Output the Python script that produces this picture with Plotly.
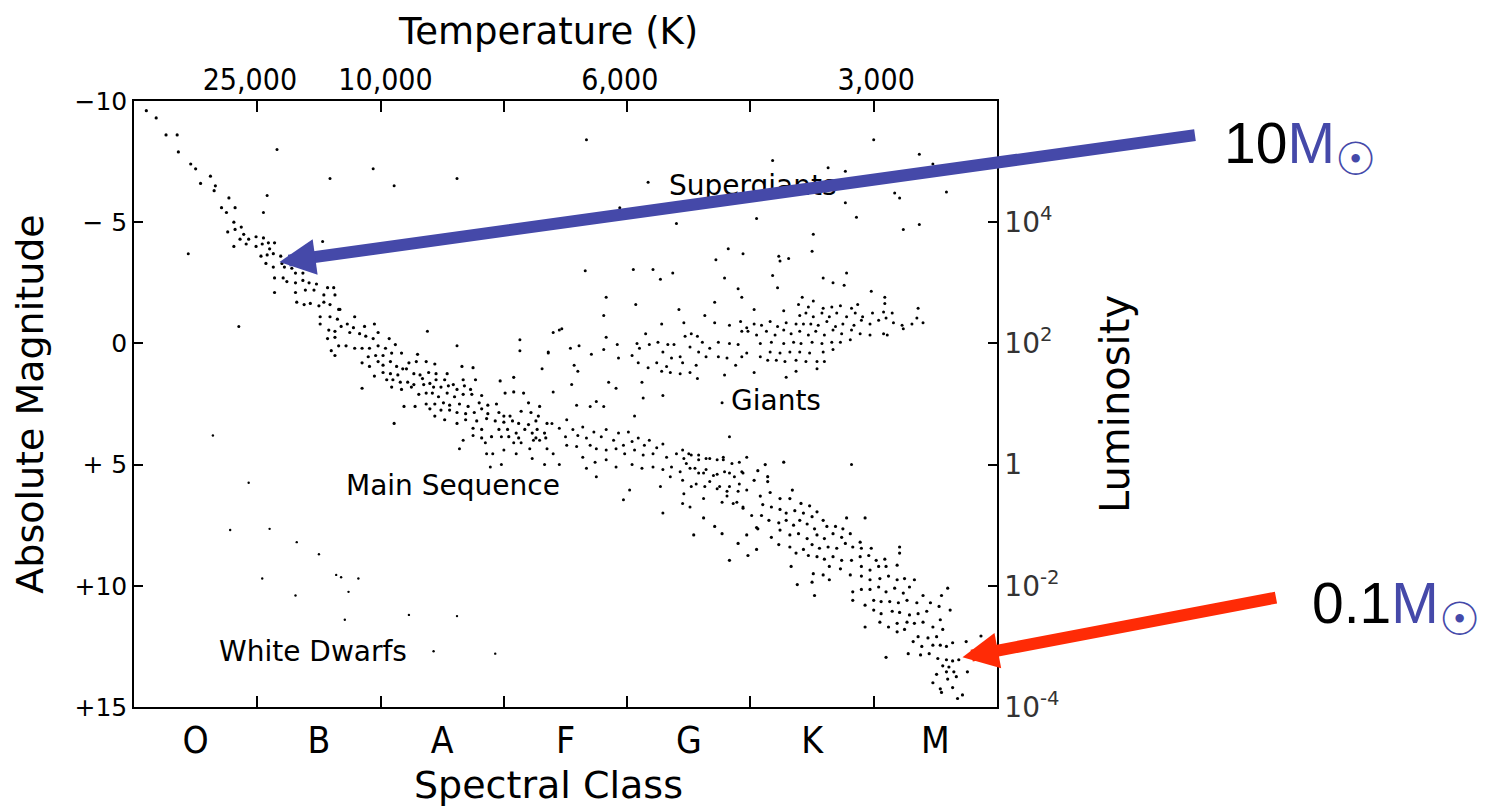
import plotly.graph_objects as go

# ---------------- data (spectral-class position, absolute magnitude) ----------------
# Main sequence: upper (O/B) branch
ms_upper_class = [0.10,0.18,0.26,0.35,0.36,0.46,0.50,0.62,0.54,0.66,0.65,0.77,0.71,0.82,0.75,
                  0.81,0.82,0.87,0.76,0.86,0.89,0.93,0.99,1.05,0.91,0.99,0.81,1.04,1.09,1.14,1.03,1.08,1.13,1.19,1.10,
                  1.07,1.13,1.20,1.22,1.28,1.31,1.37,1.14,1.21,1.24,1.31,1.37,1.42,1.48,
                  1.14,1.31,1.39,1.46,1.54,1.57,1.62,1.63,1.32,1.38,1.43,1.50,1.54,1.59,1.66]
ms_upper_mag = [-9.6,-9.3,-8.6,-8.6,-7.9,-7.4,-7.2,-6.9,-6.6,-6.5,-6.3,-6.0,-5.6,-5.6,-5.4,
                -5.0,-4.7,-4.8,-4.6,-4.3,-4.5,-4.3,-4.4,-4.35,-4.1,-4.0,-4.0,-4.1,-4.15,-4.15,-3.6,-3.65,-3.7,-3.6,-3.9,
                -3.3,-3.15,-3.3,-3.15,-3.1,-2.9,-2.9,-2.7,-2.7,-2.55,-2.5,-2.6,-2.5,-2.45,
                -2.1,-2.1,-2.2,-2.2,-2.0,-2.3,-2.3,-2.0,-1.7,-1.6,-1.65,-1.55,-1.7,-1.6,-1.4]

# Main sequence: B-A-F section
ms_mid_class = [1.51,1.59,1.65,1.79,1.67,1.51,1.58,1.63,1.68,1.73,1.78,1.87,1.95,
                1.57,1.63,1.75,1.83,1.88,1.98,1.94,2.07,
                1.60,1.66,1.72,1.79,1.85,1.91,1.98,2.04,2.12,
                1.63,1.90,1.96,2.02,2.09,2.17,2.30,
                1.85,1.91,1.98,2.02,2.08,2.13,2.18,2.23,2.29,2.37,2.44,2.66,2.75,
                1.95,2.02,2.08,2.14,2.21,2.27,2.32,2.39,2.45,2.54,
                2.05,2.10,2.16,2.22,2.27,2.34,2.40,2.45,2.52,2.59,2.67,2.77,2.97,3.08,
                1.85,2.09,2.17,2.25,2.35,2.43,2.49,2.55,2.62,2.68,2.73,
                2.31,2.37,2.42,2.47,2.54,2.60,2.67,2.74,2.82,3.01,3.08,3.16,
                2.37,2.44,2.51,2.56,2.64,2.71,2.80,2.87,2.94,3.20,3.29,
                2.19,2.28,2.40,2.49,2.56,2.62,2.69,2.76,2.82,2.87,2.96,3.00,3.05,3.14,3.22,3.28,
                2.44,2.52,2.62,2.69,2.78,2.86,2.93,3.00,3.07,3.12,3.20,3.26,3.35,2.11,
                2.75,2.82,2.90,2.96,3.03,3.10,3.17,3.23,3.27,3.33,3.34,3.26,3.12,3.04,2.82]
ms_mid_mag = [-1.1,-1.1,-1.0,-1.1,-1.4,-0.8,-0.55,-0.5,-0.7,-0.8,-0.65,-0.7,-0.8,
              -0.2,-0.25,-0.45,-0.4,-0.3,-0.45,-0.2,-0.2,
              0.3,0.1,0.1,0.2,0.2,0.2,0.1,0.2,0.05,
              0.5,0.55,0.5,0.5,0.4,0.4,0.45,
              0.8,0.95,0.75,0.9,0.75,0.95,1.05,0.8,0.75,0.75,0.85,0.95,1.0,
              1.35,1.2,1.25,1.3,1.05,1.25,1.3,1.2,1.25,1.25,
              1.5,1.5,1.6,1.6,1.7,1.45,1.65,1.5,1.5,1.7,1.5,1.5,1.55,1.4,
              1.85,1.8,1.9,1.8,1.7,1.8,1.8,1.75,1.9,1.75,1.9,
              2.1,2.05,2.05,2.2,2.05,2.2,2.1,2.1,2.15,2.05,2.0,2.05,
              2.5,2.5,2.45,2.55,2.5,2.6,2.45,2.55,2.5,2.45,2.6,
              2.6,2.6,2.7,2.75,2.75,2.85,2.9,2.85,2.7,2.9,2.85,3.0,3.0,2.8,2.85,3.0,
              3.0,3.15,3.3,3.15,3.2,3.1,3.2,3.25,3.2,3.3,3.35,3.2,3.3,3.3,
              3.5,3.55,3.85,3.55,3.55,3.7,3.55,3.7,3.55,3.7,3.9,3.9,3.9,3.85,3.9]

# Main sequence: F-G section
ms_g_class = [3.39,3.45,3.51,3.50,3.56,3.60,3.64,3.67,3.73,3.79,3.83,3.89,3.93,3.97,4.01,4.04,4.09,4.14,4.18,4.24,4.29,
              3.51,3.59,3.70,3.75,3.83,3.91,3.98,4.06,4.13,4.21,4.32,4.40,4.46,4.52,4.58,4.64,4.73,4.78,4.85,4.91,4.97,
              3.64,3.74,3.83,3.91,4.04,4.12,4.21,4.29,4.36,4.43,4.51,4.58,4.64,4.73,4.79,4.87,4.94,
              4.35,4.45,4.56,4.67,4.75,4.83,4.91,4.97,4.27,4.46,4.62,4.81,4.89,4.02,3.97,4.29,3.67,3.75,4.94,
              2.67,2.64,2.85,2.91,2.89,2.98,3.00,3.08,3.23,3.33,3.45,3.14,3.21,3.29,3.10,3.40,3.35,3.24,
              2.75,2.98,2.86,
              4.45,4.50,4.58,4.67,4.78,4.48,4.55,4.62,4.70,4.83,4.93,4.52,4.63,4.73,4.81,4.90,4.45,4.51,4.86,4.94,4.77,5.01]
ms_g_mag = [3.3,3.5,3.15,3.85,3.55,3.8,3.45,3.9,3.65,3.85,3.55,4.0,3.7,4.2,3.65,4.05,3.9,4.2,4.0,4.3,4.15,
            4.2,4.25,4.2,4.35,4.4,4.35,4.55,4.4,4.6,4.55,4.7,4.55,4.75,4.6,4.8,4.75,4.8,4.7,4.95,4.9,4.7,
            4.7,4.9,4.8,5.1,5.0,5.15,5.1,5.2,5.1,5.3,5.15,5.35,5.2,5.4,5.3,5.5,5.35,
            5.5,5.65,5.8,5.7,5.9,5.9,5.8,6.05,5.9,6.2,6.4,6.3,6.55,6.05,6.45,7.0,5.15,5.5,6.75,
            4.0,4.35,4.1,4.55,5.1,5.0,4.4,4.1,4.75,5.0,5.0,4.1,4.35,4.0,4.55,4.55,4.35,4.0,
            3.8,3.85,4.55,
            4.4,4.55,4.6,4.75,4.8,4.95,5.15,5.35,5.45,5.35,5.3,5.9,5.9,6.0,6.1,6.1,6.6,6.75,6.6,6.8,6.55,7.1]

# Main sequence: K-M section
ms_low_class = [5.06,5.12,5.14,5.14,5.27,5.34,5.03,5.08,5.16,5.24,5.32,5.41,5.48,5.54,
                5.10,5.17,5.24,5.29,5.36,5.43,5.50,5.59,
                5.09,5.15,5.23,5.29,5.35,5.40,5.46,5.52,5.62,5.69,5.75,5.78,5.93,
                5.06,5.17,5.24,5.32,5.39,5.46,5.54,5.60,5.67,5.74,5.81,5.89,
                5.23,5.32,5.37,5.43,5.50,5.56,5.63,5.70,5.77,5.83,5.90,5.98,6.21,6.21,
                5.47,5.54,5.60,5.67,5.74,5.82,5.89,5.96,6.02,6.09,
                5.33,5.51,5.59,5.64,5.73,5.81,5.90,5.97,6.04,6.10,6.19,
                5.50,5.64,5.90,5.97,6.05,6.12,6.19,6.25,6.33,
                5.38,5.52,5.83,5.90,5.97,6.04,6.10,6.17,6.24,6.29,6.40,
                5.83,5.93,6.00,6.06,6.13,6.20,6.27,6.35,6.46,6.55,6.60,
                6.00,6.06,6.15,6.21,6.29,6.36,6.43,6.53,6.62,
                5.93,6.05,6.12,6.19,6.27,6.33,6.40,6.48,6.54,
                6.19,6.25,6.36,6.44,6.51,6.56,
                6.32,6.39,6.48,6.54,6.59,6.64,6.75,6.87,
                6.28,6.38,6.45,6.52,6.59,6.64,6.69,6.10,
                6.56,6.61,6.65,6.76,6.51,6.59,6.67,6.48,6.60,6.54,6.64,6.72,6.55,6.68,
                4.62,4.54,4.71,4.77,4.83,4.90,4.98,5.05,4.97,5.05]
ms_low_mag = [5.25,5.0,5.5,5.7,4.9,6.05,5.65,6.3,6.15,6.4,6.4,6.6,6.7,6.95,
              6.65,6.75,6.85,7.0,6.9,7.0,7.15,7.3,
              7.1,7.3,7.4,7.3,7.5,7.3,7.45,7.65,7.55,7.55,7.65,7.2,7.2,
              7.65,8.0,7.7,7.9,7.85,8.05,7.9,8.05,7.85,8.0,7.85,8.2,
              8.3,8.4,8.65,8.5,8.3,8.45,8.4,8.45,8.25,8.4,8.45,8.45,8.4,8.65,
              8.75,8.8,8.9,8.8,8.95,8.95,8.8,8.75,8.95,8.9,
              9.2,9.5,9.55,9.2,9.3,9.55,9.2,9.35,9.2,9.2,9.15,
              9.85,9.75,9.6,9.75,9.7,9.6,9.75,9.7,9.75,
              9.95,10.4,10.25,10.15,10.15,10.05,10.25,10.1,10.3,10.05,10.4,
              10.6,10.8,10.6,10.65,10.65,10.7,10.6,10.7,10.7,10.4,10.1,
              11.0,11.15,11.05,11.1,11.2,11.15,11.05,10.85,11.0,
              11.7,11.5,11.7,11.55,11.5,11.55,11.5,11.7,11.4,
              11.9,11.8,12.1,12.15,12.1,11.8,
              12.3,12.5,12.45,12.45,12.5,12.35,12.3,12.07,
              12.8,12.85,12.8,13.0,13.05,13.1,13.05,12.95,
              13.3,13.35,13.55,13.55,13.65,13.55,13.75,14.0,13.85,14.25,14.2,14.5,14.4,14.65,
              7.2,7.9,7.55,7.85,8.95,8.25,8.75,8.5,7.9,7.6]

# Giants
giant_class = [3.40,3.45,3.36,3.54,3.61,3.71,3.81,3.83,3.92,3.93,4.04,4.08,4.15,4.10,4.18,4.25,4.29,4.33,4.38,4.36,4.43,
               4.47,4.52,4.57,4.61,4.67,4.74,4.83,4.90,4.93,4.97,4.51,4.58,4.64,4.74,4.81,4.88,4.93,
               4.24,4.32,4.45,4.56,4.17,4.28,4.35,4.43,4.51,4.57,4.79,4.09,4.12,3.91,4.13,4.29,4.77,
               3.57,3.60,3.55,3.85,3.75,3.70,3.81,3.59,3.40,4.06,4.83,
               2.38,2.62,3.13,3.13,3.36,3.31,5.82,
               3.66,4.05,4.21,4.37,4.27,4.79,5.18,5.78,5.59,5.67,5.76,5.22,4.90,4.93,5.98,6.09,6.09,6.36,
               3.83,4.07,4.42,4.71,5.03,5.42,5.51,5.39,5.47,5.59,5.66,5.73,5.82,5.87,5.27,
               3.81,4.63,5.40,5.45,5.51,5.58,5.64,5.70,5.78,5.85,5.91,5.99,6.08,6.15,6.10,6.35,6.40,6.31,6.23,6.16,
               6.04,5.97,5.90,5.84,5.75,5.69,5.62,5.55,5.49,5.43,5.37,5.29,5.22,5.16,5.09,5.03,4.97,4.92,4.83,4.71,4.46,4.28,
               3.47,6.08,6.24,6.11,5.97,5.89,5.82,5.74,5.67,5.60,5.53,5.47,5.40,5.33,5.27,5.20,5.13,5.05,4.98,
               5.81,5.73,5.66,5.58,5.50,5.41,5.35,5.27,5.17,5.08,
               5.67,5.59,5.48,5.40,5.32,5.24,5.16,5.08,
               5.54,5.60,5.45,5.37,5.28,5.21,5.14,5.54,5.37,5.29,5.03]
giant_mag = [-0.45,-0.55,0.4,0.2,0.1,0.45,0.25,-0.25,0.05,0.6,0.5,0.0,-0.4,0.2,0.05,-0.05,0.35,0.05,0.05,0.6,0.55,
             -0.3,-0.4,-0.3,-0.05,0.2,-0.05,0.0,0.05,-0.5,0.4,0.15,0.35,0.55,0.55,0.6,0.9,0.55,
             0.8,0.95,0.8,0.9,1.0,1.15,1.2,1.25,1.2,1.45,1.3,0.8,1.6,1.85,2.25,2.15,2.45,
             0.9,1.15,1.7,1.6,2.4,2.6,2.6,2.55,2.0,3.0,3.85,
             -0.5,0.1,-0.15,0.3,0.35,1.05,5.0,
             -3.0,-3.05,-3.05,-2.9,-2.65,-2.7,-2.8,-2.9,-2.7,-2.5,-2.4,-2.3,-2.25,-1.9,-2.15,-1.9,-1.65,-1.45,
             -1.9,-1.6,-1.4,-1.7,-1.4,-1.9,-1.75,-1.6,-1.5,-1.45,-1.5,-1.55,-1.45,-1.6,-1.35,
             -1.15,-1.15,-1.15,-1.25,-1.1,-1.25,-1.1,-1.25,-1.1,-1.25,-1.1,-1.25,-1.3,-1.25,-1.05,-1.05,-0.85,-0.8,-0.75,-0.85,
             -0.95,-0.8,-0.95,-0.75,-0.8,-0.7,-0.9,-0.75,-0.8,-0.8,-0.8,-0.85,-0.7,-0.9,-0.75,-0.8,-0.65,-0.9,-0.75,-0.85,-0.85,-0.8,
             -0.6,-0.4,-0.6,-0.35,-0.35,-0.4,-0.55,-0.4,-0.55,-0.35,-0.5,-0.35,-0.5,-0.4,-0.55,-0.35,-0.5,-0.35,-0.5,
             -0.15,-0.05,-0.05,0.0,-0.05,0.0,-0.05,0.0,-0.05,0.0,
             0.25,0.35,0.4,0.35,0.35,0.4,0.35,0.55,
             0.75,0.75,0.75,0.7,0.75,0.7,0.7,1.05,1.15,1.4,1.2]

# Supergiants and bright scattered stars
super_class = [4.17,3.94,4.05,5.18,5.63,5.77,6.48,6.59,6.17,6.21,5.77,5.05,5.86,4.40,6.24,6.37,5.51,4.82,4.94,5.50,5.23,5.31,5.24,4.72,
               1.05,1.08,1.16,1.59,1.94,2.11,0.44,1.53,
               2.62,3.67,6.00,6.37,0.85]
super_mag = [-6.65,-5.6,-5.55,-7.55,-7.25,-7.1,-7.4,-6.25,-6.2,-6.0,-5.8,-5.15,-5.2,-4.95,-4.7,-4.9,-4.5,-3.9,-3.7,-3.8,-3.6,-3.5,-3.4,-3.45,
             -5.4,-6.1,-8.0,-6.8,-7.2,-6.5,-3.7,-4.2,
             -6.8,-8.4,-8.4,-7.8,-0.7]

# White dwarfs
wd_class = [0.64,0.93,0.78,1.10,1.32,1.50,1.04,1.64,1.68,1.82,1.74,1.31,1.71,2.23,2.62,2.43,2.93]
wd_mag = [3.8,5.75,7.7,7.65,8.2,8.7,9.7,9.55,9.65,9.7,10.25,10.4,11.4,11.2,11.25,12.7,12.8]

# Axis ticks and labels
class_boundaries = [1, 2, 3, 4, 5, 6]
class_centers = [0.5, 1.5, 2.5, 3.5, 4.5, 5.5, 6.5]
class_labels = ["O", "B", "A", "F", "G", "K", "M"]
temp_positions = [0.94, 2.04, 3.94, 6.02]
temp_labels = ["25,000", "10,000", "6,000", "3,000"]
mag_ticks = [-10, -5, 0, 5, 10, 15]
mag_labels = ["\u221210", "\u2212 5", "0", "+ 5", "+10", "+15"]
lum_ticks = [-5, 0, 5, 10, 15]
lum_labels = ["10<sup>4</sup>", "10<sup>2</sup>", "1", "10<sup>-2</sup>", "10<sup>-4</sup>"]

region_labels = ["Supergiants", "Giants", "Main Sequence", "White Dwarfs"]
region_class = [5.02, 5.21, 2.59, 1.45]
region_mag = [-6.5, 2.35, 5.85, 12.7]

BLUE = "#4549a9"
RED = "#ff2b06"
NARROW = "DejaVu Sans Condensed, Liberation Sans Narrow, Liberation Sans, sans-serif"
MAIN = "DejaVu Sans, sans-serif"

fig = go.Figure()
# every axis shares the same range; traces are spread over them so all axes are drawn
groups = [
    (ms_upper_class, ms_upper_mag, 3.2, "x", "y"),
    (ms_mid_class, ms_mid_mag, 3.2, "x4", "y"),
    (ms_g_class, ms_g_mag, 3.0, "x", "y"),
    (ms_low_class, ms_low_mag, 3.2, "x", "y"),
    (giant_class, giant_mag, 3.0, "x2", "y"),
    (super_class, super_mag, 3.0, "x3", "y"),
    (wd_class, wd_mag, 2.4, "x", "y2"),
]
for cx, cm, sz, xa, ya in groups:
    n = min(len(cx), len(cm))
    fig.add_trace(go.Scatter(x=cx[:n], y=cm[:n], mode="markers", xaxis=xa, yaxis=ya,
                             marker=dict(size=sz, color="black", line=dict(width=0)),
                             showlegend=False, hoverinfo="skip"))

annotations = []
for t, cx, cm in zip(region_labels, region_class, region_mag):
    annotations.append(dict(x=cx, y=cm, xref="x", yref="y", text=t, showarrow=False,
                            font=dict(family=MAIN, size=28, color="black")))

# axis titles for the top and bottom scales
annotations.append(dict(x=0.48, y=1.0, xref="paper", yref="paper", yshift=70, xanchor="center", yanchor="middle",
                        text="Temperature (K)", showarrow=False,
                        font=dict(family=MAIN, size=37, color="black")))
annotations.append(dict(x=0.48, y=0.0, xref="paper", yref="paper", yshift=-78, xanchor="center", yanchor="middle",
                        text="Spectral Class", showarrow=False,
                        font=dict(family=MAIN, size=38, color="black")))

# arrows
annotations.append(dict(x=1.18, y=-3.36, xref="x", yref="y", ax=917, ay=-127, text="",
                        showarrow=True, arrowhead=2, arrowsize=0.6, arrowwidth=12, arrowcolor=BLUE))
annotations.append(dict(x=6.72, y=12.95, xref="x", yref="y", ax=315, ay=-60, text="",
                        showarrow=True, arrowhead=2, arrowsize=0.6, arrowwidth=12, arrowcolor=RED))
# mass labels
sun = "<span style='font-size:46px'>\u2609</span>"
annotations.append(dict(x=1.2607, y=0.922, xref="paper", yref="paper", xanchor="left", yanchor="middle",
                        text="10<span style='color:%s'>M<sub>%s</sub></span>" % (BLUE, sun), showarrow=False,
                        font=dict(family="Liberation Sans, sans-serif", size=57, color="black")))
annotations.append(dict(x=1.3627, y=0.163, xref="paper", yref="paper", xanchor="left", yanchor="middle",
                        text="0.1<span style='color:%s'>M<sub>%s</sub></span>" % (BLUE, sun), showarrow=False,
                        font=dict(family="Liberation Sans, sans-serif", size=57, color="black")))

common = dict(showgrid=False, zeroline=False)
fig.update_layout(
    width=1488, height=809,
    margin=dict(l=126, r=499, t=93, b=110),
    plot_bgcolor="white", paper_bgcolor="white",
    annotations=annotations,
    # bottom frame with inside tick marks at class boundaries
    xaxis=dict(range=[0, 7], tickvals=class_boundaries, ticks="inside", ticklen=11, tickwidth=1.5,
               tickcolor="black", showticklabels=False, showline=True, linecolor="black", linewidth=1.5,
               **common),
    # top frame with inside tick marks at class boundaries
    xaxis4=dict(overlaying="x", side="top", anchor="y", range=[0, 7], tickvals=class_boundaries,
                ticks="inside", ticklen=11, tickwidth=1.5, tickcolor="black", showticklabels=False,
                showline=True, linecolor="black", linewidth=1.5, **common),
    # temperature labels on top
    xaxis2=dict(overlaying="x", side="top", anchor="y", range=[0, 7], tickvals=temp_positions,
                ticktext=temp_labels, ticks="", showline=False, ticklabelstandoff=4,
                tickfont=dict(family=NARROW, size=30, color="black"), **common),
    # spectral class labels at bottom
    xaxis3=dict(overlaying="x", side="bottom", anchor="y", range=[0, 7], tickvals=class_centers,
                ticktext=class_labels, ticks="", showline=False, ticklabelstandoff=8,
                tickfont=dict(family=NARROW, size=37, color="black"), **common),
    yaxis=dict(range=[15, -10], tickvals=mag_ticks, ticktext=mag_labels, ticks="inside", ticklen=9,
               tickwidth=1.5, tickcolor="black", showline=True, linecolor="black", linewidth=1.5,
               tickfont=dict(family=MAIN, size=25, color="black"),
               title=dict(text="Absolute Magnitude", font=dict(family=MAIN, size=38, color="black"), standoff=22),
               **common),
    yaxis2=dict(overlaying="y", side="right", anchor="x", range=[15, -10], tickvals=lum_ticks,
                ticktext=lum_labels, ticks="inside", ticklen=9, tickwidth=1.5, tickcolor="black",
                showline=True, linecolor="black", linewidth=1.5,
                tickfont=dict(family=MAIN, size=28, color="#333333"),
                title=dict(text="Luminosity", font=dict(family=MAIN, size=40, color="black"), standoff=42),
                **common),
)

fig.write_html("out.html")
